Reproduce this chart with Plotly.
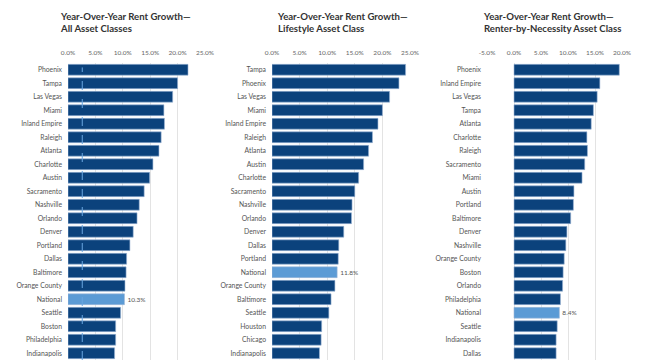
import plotly.graph_objects as go

# ---- data ----
all_cities = ["Phoenix", "Tampa", "Las Vegas", "Miami", "Inland Empire", "Raleigh", "Atlanta",
              "Charlotte", "Austin", "Sacramento", "Nashville", "Orlando", "Denver", "Portland",
              "Dallas", "Baltimore", "Orange County", "National", "Seattle", "Boston",
              "Philadelphia", "Indianapolis"]
all_values = [21.9, 20.0, 19.1, 17.5, 17.6, 17.0, 16.6, 15.5, 14.9, 13.9, 13.0, 12.6, 11.9, 11.3,
              10.7, 10.6, 10.4, 10.3, 9.6, 8.7, 8.7, 8.5]

life_cities = ["Tampa", "Phoenix", "Las Vegas", "Miami", "Inland Empire", "Raleigh", "Atlanta",
               "Austin", "Charlotte", "Sacramento", "Nashville", "Orlando", "Denver", "Dallas",
               "Portland", "National", "Orange County", "Baltimore", "Seattle", "Houston",
               "Chicago", "Indianapolis"]
life_values = [24.2, 23.0, 21.3, 20.0, 19.2, 18.2, 17.5, 16.6, 15.7, 15.0, 14.5, 14.4, 13.0, 12.1,
               12.0, 11.8, 11.4, 10.7, 10.3, 9.0, 8.9, 8.6]

rbn_cities = ["Phoenix", "Inland Empire", "Las Vegas", "Tampa", "Atlanta", "Charlotte", "Raleigh",
              "Sacramento", "Miami", "Austin", "Portland", "Baltimore", "Denver", "Nashville",
              "Orange County", "Boston", "Orlando", "Philadelphia", "National", "Seattle",
              "Indianapolis", "Dallas"]
rbn_values = [19.5, 15.9, 15.4, 14.7, 14.3, 13.5, 13.6, 13.1, 12.6, 11.1, 11.0, 10.5, 9.8, 9.6,
              9.3, 9.1, 9.0, 8.6, 8.4, 8.0, 7.8, 7.8]

titles = ["Year-Over-Year Rent Growth—<br>All Asset Classes",
          "Year-Over-Year Rent Growth—<br>Lifestyle Asset Class",
          "Year-Over-Year Rent Growth—<br>Renter-by-Necessity Asset Class"]
tick_vals_12 = [0, 5, 10, 15, 20, 25]
tick_vals_3 = [-5, 0, 5, 10, 15, 20]

NAVY = "#0b427c"
LIGHT = "#5b9bd5"
W, H = 653, 363

fig = go.Figure()
panels = [(all_cities, all_values), (life_cities, life_values), (rbn_cities, rbn_values)]
for i, (cats, vals) in enumerate(panels):
    sfx = "" if i == 0 else str(i + 1)
    colors = [LIGHT if c == "National" else NAVY for c in cats]
    texts = [f"{v:.1f}%" if c == "National" else "" for c, v in zip(cats, vals)]
    fig.add_trace(go.Bar(
        x=vals, y=cats, orientation="h",
        marker=dict(color=colors, line=dict(color="#9db7d6", width=0.6)),
        text=texts, textposition="outside", cliponaxis=False,
        textfont=dict(size=6.5, color="#555555", family="Lato"),
        xaxis="x" + sfx, yaxis="y" + sfx, showlegend=False, width=0.8,
    ))

domains = [(68 / W, 205 / W), (272 / W, 410 / W), (487 / W, 622 / W)]
ranges = [[0, 25], [0, 25], [-5, 20]]
ticks = [tick_vals_12, tick_vals_12, tick_vals_3]
layout = dict(
    width=W, height=H, margin=dict(l=0, r=0, t=63, b=3),
    paper_bgcolor="white", plot_bgcolor="white", bargap=0.2,
    font=dict(family="Lato", color="#555555"),
)
for i in range(3):
    sfx = "" if i == 0 else str(i + 1)
    layout["xaxis" + sfx] = dict(
        domain=list(domains[i]), range=ranges[i], side="top",
        anchor="y" + sfx, tickvals=ticks[i], automargin=False,
        ticktext=[f"{t:.1f}%" for t in ticks[i]], ticklabelstandoff=6,
        showgrid=True, gridcolor="#e3e3e3", gridwidth=1, zeroline=False,
        tickfont=dict(size=6.5, color="#666666"), showline=False, ticks="",
    )
    layout["yaxis" + sfx] = dict(
        anchor="x" + sfx, type="category", range=[21.5, -0.5], automargin=False,
        showgrid=False, zeroline=False, showline=False, ticks="",
        tickfont=dict(size=6.8, color="#555555"), ticklabelstandoff=5,
    )
fig.update_layout(**layout)

title_x = [58, 275, 481]
for i, t in enumerate(titles):
    fig.add_annotation(
        text="<b>" + t + "</b>", xref="paper", yref="paper",
        x=title_x[i] / W, y=1 + (63 - 9) / (H - 66), xanchor="left", yanchor="top",
        align="left", showarrow=False,
        font=dict(family="Lato", size=9.6, color="#333333"),
    )

# dashed reference line in first panel
fig.add_shape(type="line", xref="x", yref="paper", x0=2.6, x1=2.6, y0=0, y1=0.985,
              line=dict(color="#6aa6e0", width=1, dash="dash"), layer="above")

fig.write_html("out.html", config={"displayModeBar": False},
               post_script="document.body.style.margin='0';document.body.style.overflow='hidden';")
